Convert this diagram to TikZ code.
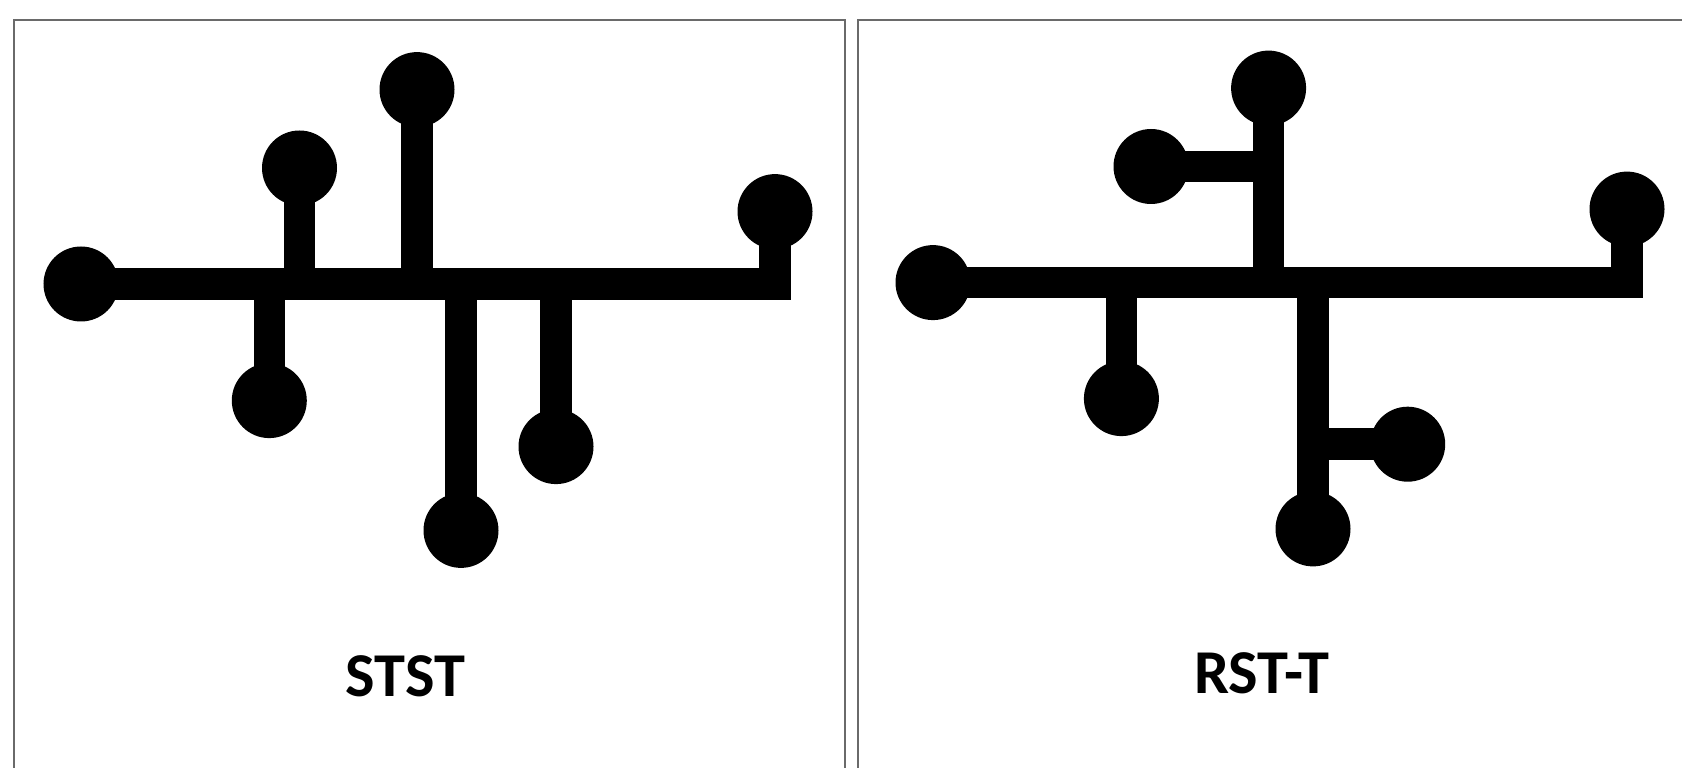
\documentclass[tikz,border=0pt]{standalone}
\usepackage{fontspec}
\setmainfont{Carlito}
\usepackage{xcolor}
\usepackage{tikz}
\definecolor{framegray}{HTML}{6A6A6A}

\begin{document}
\begin{tikzpicture}[x=0.2mm, y=-0.2mm,
    pad/.style={circle, fill=black, minimum size=15mm, inner sep=0pt},
    wire/.style={line width=6.3mm, line join=miter},
    panel/.style={draw=framegray, line width=0.4mm},
    lbl/.style={font=\bfseries\fontsize{35.5}{42}\selectfont, anchor=base, inner sep=0pt}]
    \useasboundingbox (0,0) rectangle (1682,768);
    \clip (0,0) rectangle (1682,768);

    \draw[panel] (13.7,19.6) rectangle (844.8,800);
    \draw[panel] (857.7,19.6) rectangle (1720,800);

    % STST
    \node[pad] (st_left) at (81,284) {};
    \node[pad] (st_up1) at (299.5,168) {};
    \node[pad] (st_up2) at (417,89.6) {};
    \node[pad] (st_right) at (775,211.6) {};
    \node[pad] (st_dn1) at (269.3,400.6) {};
    \node[pad] (st_dn2) at (461,530.4) {};
    \node[pad] (st_dn3) at (556,446.6) {};

    \draw[wire] (st_left.center) -- (st_right.center |- st_left.center) -- (st_right.center);
    \draw[wire] (st_up1.center) -- (st_up1.center |- st_left.center);
    \draw[wire] (st_up2.center) -- (st_up2.center |- st_left.center);
    \draw[wire] (st_dn1.center) -- (st_dn1.center |- st_left.center);
    \draw[wire] (st_dn2.center) -- (st_dn2.center |- st_left.center);
    \draw[wire] (st_dn3.center) -- (st_dn3.center |- st_left.center);

    \node[lbl] (st_name) at (405.5,697) {STST};

    % RST-T
    \node[pad] (rt_left) at (933,282.6) {};
    \node[pad] (rt_top) at (1268.6,88.1) {};
    \node[pad] (rt_side) at (1151,166.5) {};
    \node[pad] (rt_right) at (1627,209.1) {};
    \node[pad] (rt_dn1) at (1121.4,398.6) {};
    \node[pad] (rt_dn2) at (1313,528.9) {};
    \node[pad] (rt_side2) at (1407.7,444.2) {};

    \draw[wire] (rt_left.center) -- (rt_right.center |- rt_left.center) -- (rt_right.center);
    \draw[wire] (rt_top.center) -- (rt_top.center |- rt_left.center);
    \draw[wire] (rt_side.center) -- (rt_top.center |- rt_side.center);
    \draw[wire] (rt_dn1.center) -- (rt_dn1.center |- rt_left.center);
    \draw[wire] (rt_dn2.center) -- (rt_dn2.center |- rt_left.center);
    \draw[wire] (rt_side2.center) -- (rt_dn2.center |- rt_side2.center);

    \node[lbl] (rt_name) at (1262,693.5) {RST-T};
\end{tikzpicture}
\end{document}
